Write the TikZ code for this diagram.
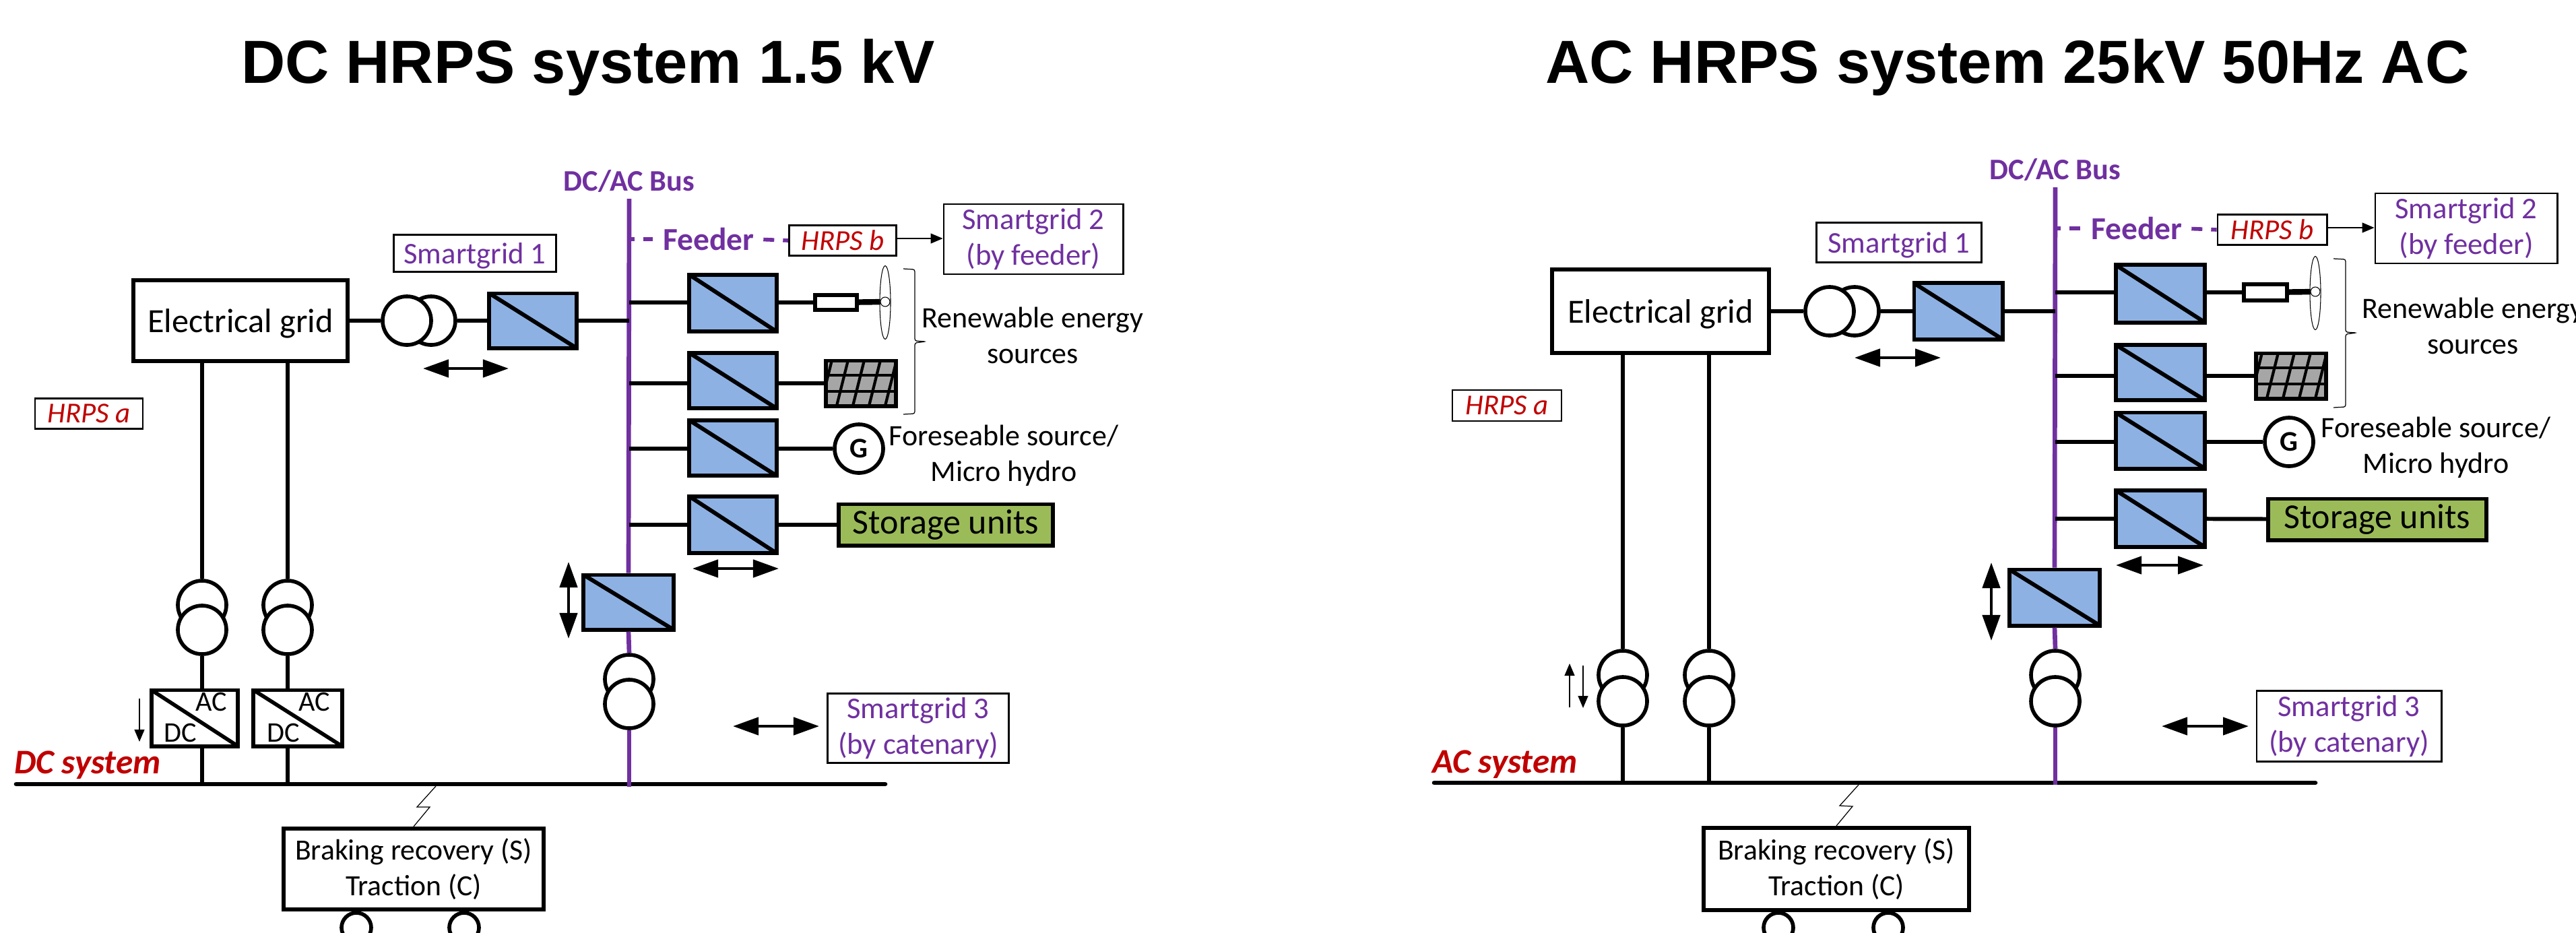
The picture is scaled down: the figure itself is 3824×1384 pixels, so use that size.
\documentclass[tikz,border=0pt]{standalone}
\usepackage{fontspec}
\setmainfont{Carlito}
\newfontfamily\titlefont{Liberation Sans}
\usetikzlibrary{arrows.meta,shapes.geometric}
\definecolor{busviolet}{HTML}{7030A0}
\definecolor{hrpsred}{HTML}{C00000}
\definecolor{convblue}{HTML}{8EB1E3}
\definecolor{storegreen}{HTML}{9BBB59}
\definecolor{pvgrey}{HTML}{A6A6A6}
\tikzset{
  title/.style={font=\titlefont\fontsize{25.7}{30}\selectfont\bfseries},
  bx/.style 2 args={draw,line width=1.7pt,fill=white,inner sep=0pt,align=center,minimum width=#1,minimum height=#2},
  tag/.style 2 args={draw,line width=.8pt,fill=white,inner sep=0pt,align=center,minimum width=#1,minimum height=#2},
  conv/.style 2 args={bx={#1}{#2},fill=convblue,
    path picture={\draw[line width=1.7pt] (path picture bounding box.north west) -- (path picture bounding box.south east);}},
  acdc/.style 2 args={bx={#1}{#2},
    path picture={\draw[line width=1.6pt] (path picture bounding box.north west) -- (path picture bounding box.south east);}},
  trafo/.style={circle,draw,line width=1.6pt,fill=white,inner sep=0pt,minimum size=.72cm},
  gen/.style={trafo,font=\fontsize{12}{14}\selectfont\bfseries},
  blade/.style={ellipse,draw,line width=.3pt,fill=white,inner sep=0pt,minimum width=.16cm,minimum height=1.09cm},
  hub/.style={circle,draw,line width=.3pt,fill=white,inner sep=0pt,minimum size=.14cm},
  pv/.style={bx={1.04cm}{.67cm},fill=pvgrey,
    path picture={
      \foreach \y in {-12,12} \draw[line width=1.3pt] ([yshift=\y*.01cm]path picture bounding box.west) -- ([yshift=\y*.01cm]path picture bounding box.east);
      \foreach \x in {-.6,-.36,-.12,.12,.36,.6} \draw[line width=1.2pt] ([xshift=\x cm]path picture bounding box.south) -- ++(18,-72);}},
  wire/.style={line width=1.7pt},
  busline/.style={line width=1.9pt,draw=busviolet},
  feeder/.style={line width=1.6pt,draw=busviolet,dash pattern=on .16cm off .13cm},
  rail/.style={line width=1.9pt,line cap=round},
  fine/.style={line width=.35pt},
  dbl/.style={line width=1.3pt,{Triangle[length=.38cm,width=.26cm]}-{Triangle[length=.38cm,width=.26cm]}},
  oneway/.style={line width=.35pt,-{Triangle[length=.18cm,width=.15cm]}},
  sgt/.style={text=busviolet,font=\fontsize{12.7}{15}\selectfont},
  hrps/.style={text=hrpsred,font=\fontsize{12.2}{14}\selectfont\itshape},
  sys/.style={text=hrpsred,font=\fontsize{14.6}{17}\selectfont\bfseries\itshape},
  busl/.style={text=busviolet,font=\fontsize{12.6}{15}\selectfont\bfseries},
  lab/.style={align=center,inner sep=0pt,font=\fontsize{12.5}{15}\selectfont},
  small/.style={inner sep=0pt,font=\fontsize{12}{14}\selectfont}
}
\begin{document}
\begin{tikzpicture}[x=.01cm,y=-.01cm]
\clip (0,0) rectangle (3824,1384);
\node[title] at (873,100) (ltitle) {DC HRPS system 1.5 kV};
\node[title] at (2980,100) (rtitle) {AC HRPS system 25kV 50Hz AC};

% left: DC system
\coordinate (lrailw) at (24,1164);
\coordinate (lraile) at (1314,1164);
\coordinate (lbust) at (934,295);
\coordinate (lbusb) at (934,1168);
\node[busl] at (934,269) (lbusname) {DC/AC Bus};
\node[bx={3.17cm}{1.19cm},font=\fontsize{14.3}{17}\selectfont,text depth=0pt] at (357,476) (lgrid) {Electrical grid};
\node[tag={2.41cm}{.55cm},sgt,text depth=0pt] at (705,376) (lsg1) {Smartgrid 1};
\node[tag={1.6cm}{.45cm},hrps] at (132,614) (lhrpsa) {HRPS a};
\node[tag={1.59cm}{.45cm},hrps] at (1251,357) (lhrpsb) {HRPS b};
\node[tag={2.66cm}{1.04cm},sgt] at (1534,355) (lsg2) {Smartgrid 2\\(by feeder)};
\node[tag={2.69cm}{1.03cm},sgt] at (1363,1081) (lsg3) {Smartgrid 3\\(by catenary)};
\node[busl,font=\fontsize{13.5}{16}\selectfont\bfseries,inner sep=0pt] at (1052,355) (lfeeder) {Feeder};
\node[trafo] at (640,476) (lt1b) {};
\node[trafo] at (604,476) (lt1a) {};
\node[conv={1.29cm}{.81cm}] at (791,476) (lc0) {};
\node[conv={1.29cm}{.84cm}] at (1088,450) (lc1) {};
\node[conv={1.29cm}{.82cm}] at (1088,565) (lc2) {};
\node[conv={1.29cm}{.82cm}] at (1088,665) (lc3) {};
\node[conv={1.29cm}{.84cm}] at (1088,779) (lc4) {};
\node[bx={.62cm}{.22cm}] at (1241,449) (lwbox) {};
\node[blade] at (1314,449) (lblade) {};
\node[hub] at (1314,448) (lhub) {};
\node[pv] at (1278,569) (lpv) {};
\node[gen] at (1275,666) (lgen) {G};
\node[bx={3.17cm}{.61cm},fill=storegreen,font=\fontsize{14.8}{17}\selectfont] at (1404,779) (lstore) {Storage units};
\node[lab] at (1533,498) (lres) {Renewable energy\\sources};
\node[lab] at (1490,676) (lfore) {Foreseable source/\\Micro hydro};
\node[conv={1.33cm}{.81cm}] at (933,894) (lcb) {};
\node[trafo] at (934,1008) (lt2a) {};
\node[trafo] at (934,1045) (lt2b) {};
\node[trafo] at (300,898) (lt3a) {};
\node[trafo] at (300,935) (lt3b) {};
\node[trafo] at (427,898) (lt4a) {};
\node[trafo] at (427,935) (lt4b) {};
\node[acdc={1.28cm}{.83cm}] at (289,1066) (lac1) {};
\node[acdc={1.31cm}{.83cm}] at (442,1066) (lac2) {};
\node[small] at (314,1042) (lac1a) {AC};
\node[small] at (268,1088) (lac1d) {DC};
\node[small] at (467,1042) (lac2a) {AC};
\node[small] at (421,1088) (lac2d) {DC};
\node[sys] at (130,1136) (lsys) {DC system};
\node[trafo,minimum size=.44cm] at (529,1377) (lw1) {};
\node[trafo,minimum size=.44cm] at (689,1377) (lw2) {};
\node[bx={3.86cm}{1.2cm},font=\fontsize{12.4}{15}\selectfont] at (614,1290) (lbrake) {Braking recovery (S)\\Traction (C)};
\draw[rail] (lrailw) -- (lraile);
\draw[busline] (lbust) -- (lcb.north);
\draw[busline] (lcb.south) -- (lt2a.north);
\draw[busline] (lt2b.south) -- (lbusb);
\draw[feeder,dash phase=.08cm,shorten >=.15cm] (lbust |- lfeeder) -- (lfeeder.west);
\draw[feeder,dash phase=.16cm] (lfeeder.east) -- (lhrpsb.west);
\draw[oneway] ([yshift=.03cm]lhrpsb.east) -- ([yshift=.03cm]lhrpsb.east -| lsg2.west);
\draw[wire] (lgrid) -- (lt1a);
\draw[wire] (lt1b) -- (lc0);
\draw[wire] (lc0) -- (lbust |- lc0);
\draw[wire] (lbust |- lwbox) -- (lwbox -| lc1.west);
\draw[wire] (lwbox -| lc1.east) -- (lwbox);
\draw[line width=2.4pt] (lwbox) -- (lhub);
\draw[wire] (lbust |- lpv) -- (lpv -| lc2.west);
\draw[wire] (lpv -| lc2.east) -- (lpv);
\draw[wire] (lbust |- lgen) -- (lgen -| lc3.west);
\draw[wire] (lgen -| lc3.east) -- (lgen);
\draw[wire] (lbust |- lc4) -- (lc4);
\draw[wire] (lc4) -- (lstore);
\draw[wire] (lgrid.south -| lt3a) -- (lt3a);
\draw[wire] (lgrid.south -| lt4a) -- (lt4a);
\draw[wire] (lt3b) -- (lt3b |- lac1.north);
\draw[wire] (lt4b) -- (lt4b |- lac2.north);
\draw[wire] (lt3b |- lac1.south) -- (lt3b |- lrailw);
\draw[wire] (lt4b |- lac2.south) -- (lt4b |- lrailw);
\draw[fine,rounded corners=.03cm] (1341,399) -- (1358,400) -- (1358,506) -- (1374,507) -- (1358,509) -- (1358,614) -- (1341,615);
\coordinate (lzig) at (647,1167);
\draw[fine] (lzig) -- (619,1198) -- (638,1198) -- (lbrake.north);
\coordinate (la1w) at (628,547);
\coordinate (la1e) at (755,547);
\draw[dbl] (la1w) -- (la1e);
\coordinate (la2w) at (1028,844);
\coordinate (la2e) at (1156,844);
\draw[dbl] (la2w) -- (la2e);
\coordinate (la3w) at (1088,1078);
\coordinate (la3e) at (1216,1078);
\draw[dbl] (la3w) -- (la3e);
\coordinate (la4t) at (844,834);
\coordinate (la4b) at (844,948);
\draw[dbl] (la4t) -- (la4b);
\coordinate (la5t) at (207,1037);
\coordinate (la5b) at (207,1101);
\draw[oneway] (la5t) -- (la5b);

% right: AC system
\coordinate (rrailw) at (2129,1162);
\coordinate (rraile) at (3437,1162);
\coordinate (rbust) at (3051,278);
\coordinate (rbusb) at (3051,1165);
\node[busl] at (3051,252) (rbusname) {DC/AC Bus};
\node[bx={3.22cm}{1.23cm},font=\fontsize{14.3}{17}\selectfont,text depth=0pt] at (2465,462) (rgrid) {Electrical grid};
\node[tag={2.45cm}{.59cm},sgt,text depth=0pt] at (2819,360) (rsg1) {Smartgrid 1};
\node[tag={1.62cm}{.46cm},hrps] at (2237,602) (rhrpsa) {HRPS a};
\node[tag={1.62cm}{.45cm},hrps] at (3373,341) (rhrpsb) {HRPS b};
\node[tag={2.7cm}{1.04cm},sgt] at (3661,339) (rsg2) {Smartgrid 2\\(by feeder)};
\node[tag={2.74cm}{1.05cm},sgt] at (3487,1078) (rsg3) {Smartgrid 3\\(by catenary)};
\node[busl,font=\fontsize{13.5}{16}\selectfont\bfseries,inner sep=0pt] at (3172,339) (rfeeder) {Feeder};
\node[trafo] at (2753,462) (rt1b) {};
\node[trafo] at (2716,462) (rt1a) {};
\node[conv={1.31cm}{.83cm}] at (2907,462) (rc0) {};
\node[conv={1.32cm}{.85cm}] at (3207,436) (rc1) {};
\node[conv={1.32cm}{.82cm}] at (3207,553) (rc2) {};
\node[conv={1.32cm}{.83cm}] at (3207,654) (rc3) {};
\node[conv={1.32cm}{.84cm}] at (3207,770) (rc4) {};
\node[bx={.64cm}{.24cm}] at (3363,434) (rwbox) {};
\node[blade] at (3437,435) (rblade) {};
\node[hub] at (3437,433) (rhub) {};
\node[pv] at (3401,558) (rpv) {};
\node[gen] at (3398,656) (rgen) {G};
\node[bx={3.23cm}{.61cm},fill=storegreen,font=\fontsize{14.8}{17}\selectfont] at (3529,771) (rstore) {Storage units};
\node[lab] at (3671,484) (rres) {Renewable energy\\sources};
\node[lab] at (3616,664) (rfore) {Foreseable source/\\Micro hydro};
\node[conv={1.34cm}{.83cm}] at (3050,887) (rcb) {};
\node[trafo] at (3051,1002) (rt2a) {};
\node[trafo] at (3051,1041) (rt2b) {};
\node[trafo] at (2409,1002) (rt3a) {};
\node[trafo] at (2409,1041) (rt3b) {};
\node[trafo] at (2537,1002) (rt4a) {};
\node[trafo] at (2537,1041) (rt4b) {};
\node[sys] at (2234,1135) (rsys) {AC system};
\node[trafo,minimum size=.44cm] at (2640,1377) (rw1) {};
\node[trafo,minimum size=.44cm] at (2803,1377) (rw2) {};
\node[bx={3.93cm}{1.22cm},font=\fontsize{12.4}{15}\selectfont] at (2726,1290) (rbrake) {Braking recovery (S)\\Traction (C)};
\draw[rail] (rrailw) -- (rraile);
\draw[busline] (rbust) -- (rcb.north);
\draw[busline] (rcb.south) -- (rt2a.north);
\draw[busline] (rt2b.south) -- (rbusb);
\draw[feeder,dash phase=.08cm,shorten >=.15cm] (rbust |- rfeeder) -- (rfeeder.west);
\draw[feeder,dash phase=.16cm] (rfeeder.east) -- (rhrpsb.west);
\draw[oneway] ([yshift=.03cm]rhrpsb.east) -- ([yshift=.03cm]rhrpsb.east -| rsg2.west);
\draw[wire] (rgrid) -- (rt1a);
\draw[wire] (rt1b) -- (rc0);
\draw[wire] (rc0) -- (rbust |- rc0);
\draw[wire] (rbust |- rwbox) -- (rwbox -| rc1.west);
\draw[wire] (rwbox -| rc1.east) -- (rwbox);
\draw[line width=2.4pt] (rwbox) -- (rhub);
\draw[wire] (rbust |- rpv) -- (rpv -| rc2.west);
\draw[wire] (rpv -| rc2.east) -- (rpv);
\draw[wire] (rbust |- rgen) -- (rgen -| rc3.west);
\draw[wire] (rgen -| rc3.east) -- (rgen);
\draw[wire] (rbust |- rc4) -- (rc4);
\draw[wire] (rc4) -- (rstore);
\draw[wire] (rgrid.south -| rt3a) -- (rt3a);
\draw[wire] (rgrid.south -| rt4a) -- (rt4a);
\draw[wire] (rt3b) -- (rt3b |- rrailw);
\draw[wire] (rt4b) -- (rt4b |- rrailw);
\draw[fine,rounded corners=.03cm] (3464,384) -- (3482,385) -- (3482,493) -- (3498,494) -- (3482,496) -- (3482,604) -- (3464,605);
\coordinate (rzig) at (2759,1165);
\draw[fine] (rzig) -- (2731,1196) -- (2750,1197) -- (rbrake.north);
\coordinate (ra1w) at (2753,531);
\coordinate (ra1e) at (2881,531);
\draw[dbl] (ra1w) -- (ra1e);
\coordinate (ra2w) at (3141,839);
\coordinate (ra2e) at (3271,839);
\draw[dbl] (ra2w) -- (ra2e);
\coordinate (ra3w) at (3209,1078);
\coordinate (ra3e) at (3338,1078);
\draw[dbl] (ra3w) -- (ra3e);
\coordinate (ra4t) at (2956,835);
\coordinate (ra4b) at (2956,951);
\draw[dbl] (ra4t) -- (ra4b);
\coordinate (ra5t) at (2330,1050);
\coordinate (ra5b) at (2330,985);
\draw[oneway] (ra5t) -- (ra5b);
\coordinate (ra6t) at (2350,988);
\coordinate (ra6b) at (2350,1051);
\draw[oneway] (ra6t) -- (ra6b);
\end{tikzpicture}
\end{document}
